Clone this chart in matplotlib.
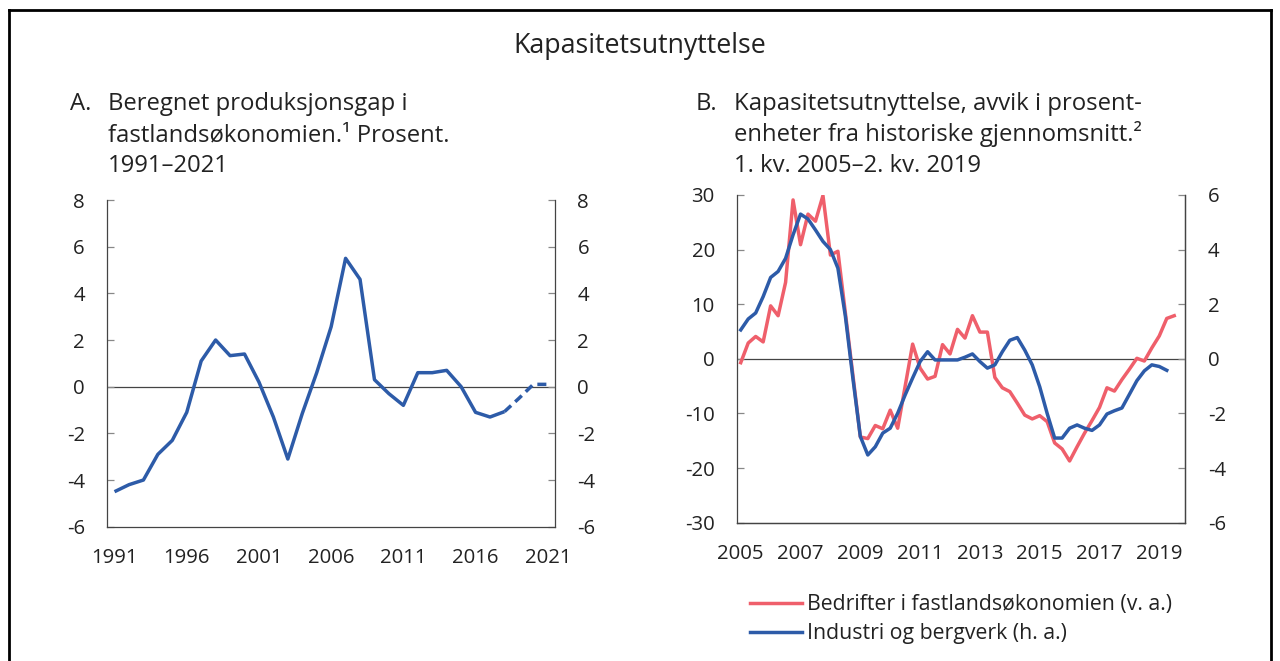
import matplotlib
matplotlib.use('Agg')
import matplotlib.pyplot as plt
from matplotlib.lines import Line2D

plt.rcParams['font.family'] = ['Open Sans', 'DejaVu Sans']
plt.rcParams['axes.unicode_minus'] = False

# ---------------- data ----------------
years_a = list(range(1991, 2022))
gap_a = [-4.5, -4.2, -4.0, -2.9, -2.3, -1.1, 1.1, 2.0, 1.33, 1.4,
         0.2, -1.3, -3.1, -1.15, 0.6, 2.57, 5.5, 4.6, 0.3, -0.3,
         -0.8, 0.6, 0.6, 0.7, 0.0, -1.1, -1.3, -1.07, -0.5, 0.1, 0.1]
proj_start_a = 2018  # dashed from here (projection)

bedrifter_b = [-0.7, 2.9, 4.1, 3.1, 9.7, 7.9, 14.0, 29.1, 20.9, 26.5,
               25.2, 29.9, 19.0, 19.7, 8.4, -2.9, -14.3, -14.6, -12.2, -12.8,
               -9.4, -12.7, -5.0, 2.7, -1.7, -3.7, -3.2, 2.6, 0.9, 5.4,
               3.8, 7.9, 4.9, 4.9, -3.4, -5.3, -6.0, -8.1, -10.3, -11.0,
               -10.4, -11.5, -15.4, -16.5, -18.7, -16.1, -13.6, -11.3, -8.9, -5.3,
               -5.9, -3.8, -1.9, 0.1, -0.4, 2.0, 4.2, 7.4, 7.9]
industri_b = [1.06, 1.46, 1.68, 2.28, 2.98, 3.2, 3.68, 4.54, 5.3, 5.12,
              4.72, 4.3, 4.0, 3.32, 1.56, -0.7, -2.84, -3.52, -3.22, -2.72,
              -2.54, -1.99, -1.32, -0.7, -0.1, 0.26, -0.04, -0.04, -0.04, -0.04,
              0.06, 0.18, -0.1, -0.34, -0.22, 0.26, 0.68, 0.78, 0.32, -0.22,
              -1.02, -2.0, -2.9, -2.9, -2.54, -2.42, -2.54, -2.62, -2.42, -2.02,
              -1.9, -1.8, -1.3, -0.8, -0.44, -0.22, -0.28, -0.42]
start_b = 2005
quarters_red = [start_b + i / 4 for i in range(len(bedrifter_b))]
quarters_blue = [start_b + i / 4 for i in range(len(industri_b))]

xticks_a = [1991, 1996, 2001, 2006, 2011, 2016, 2021]
yticks_a = [-6, -4, -2, 0, 2, 4, 6, 8]
xticks_b = [2005, 2007, 2009, 2011, 2013, 2015, 2017, 2019]
yticks_b_left = [-30, -20, -10, 0, 10, 20, 30]
yticks_b_right = [-6, -4, -2, 0, 2, 4, 6]

label_red = 'Bedrifter i fastlandsøkonomien (v. a.)'
label_blue = 'Industri og bergverk (h. a.)'

RED = '#EF5F6B'
BLUE = '#2D5BA8'
TXT = '#222222'
SPINE = '#444444'
TICK = '#888888'

W, H = 1280, 661
fig = plt.figure(figsize=(W / 100, H / 100), dpi=100)


def fx(px):
    return px / W


def fy(py):
    return 1 - py / H


TICKFS = 14.7
PAD = 16.2


def style_axis(ax):
    ax.spines['top'].set_visible(False)
    for s in ['left', 'right', 'bottom']:
        ax.spines[s].set_color(SPINE)
        ax.spines[s].set_linewidth(0.9)
    ax.tick_params(axis='y', direction='in', length=5, width=0.9, color=TICK,
                   labelsize=TICKFS, labelcolor=TXT, pad=PAD)
    ax.tick_params(axis='x', length=0, labelsize=TICKFS, labelcolor=TXT, pad=15)
    ax.set_facecolor('none')


# ---------------- panel A ----------------
axA = fig.add_axes([fx(107.3), fy(526.7), fx(555) - fx(107.3), fy(200) - fy(526.7)])
style_axis(axA)
axA.tick_params(axis='y', left=True, right=True, labelleft=True, labelright=True)
axA.set_xlim(1990.5, 2021.5)
axA.set_ylim(-6, 8)
axA.set_xticks(xticks_a)
axA.set_yticks(yticks_a)
axA.axhline(0, color='#444444', lw=0.9, zorder=1)
k = years_a.index(proj_start_a)
axA.plot(years_a[:k + 1], gap_a[:k + 1], color=BLUE, lw=2.5,
         solid_joinstyle='round', solid_capstyle='butt', zorder=3)
axA.plot(years_a[k:], gap_a[k:], color=BLUE, lw=2.5, ls=(0, (2.6, 1.6)),
         zorder=3)

# ---------------- panel B ----------------
axB = fig.add_axes([fx(737.3), fy(522.7), fx(1185.3) - fx(737.3), fy(195) - fy(522.7)])
style_axis(axB)
axB.set_xlim(2004.885, 2019.87)
axB.set_ylim(-30, 30)
axB.set_xticks(xticks_b)
axB.set_yticks(yticks_b_left)
axB.axhline(0, color='#444444', lw=0.9, zorder=1)
lr, = axB.plot(quarters_red, bedrifter_b, color=RED, lw=2.5,
               solid_joinstyle='round', label=label_red, zorder=2)

axB2 = axB.twinx()
style_axis(axB2)
axB2.spines['left'].set_visible(False)
axB2.set_ylim(-6, 6)
axB2.set_yticks(yticks_b_right)
lb, = axB2.plot(quarters_blue, industri_b, color=BLUE, lw=2.5,
                solid_joinstyle='round', label=label_blue, zorder=3)

# ---------------- texts ----------------
fig.text(0.5, fy(53), 'Kapasitetsutnyttelse', ha='center', va='baseline',
         fontsize=19.3, color=TXT)

SUBFS = 17.2
fig.text(fx(70), fy(110), 'A.', ha='left', va='baseline', fontsize=SUBFS, color=TXT)
fig.text(fx(108), fy(110), 'Beregnet produksjonsgap i', ha='left', va='baseline',
         fontsize=SUBFS, color=TXT)
fig.text(fx(108), fy(141), 'fastlandsøkonomien.¹ Prosent.', ha='left', va='baseline',
         fontsize=SUBFS, color=TXT)
fig.text(fx(108), fy(172), '1991–2021', ha='left', va='baseline',
         fontsize=SUBFS, color=TXT)

fig.text(fx(696), fy(110), 'B.', ha='left', va='baseline', fontsize=SUBFS, color=TXT)
fig.text(fx(734), fy(110), 'Kapasitetsutnyttelse, avvik i prosent-', ha='left',
         va='baseline', fontsize=SUBFS, color=TXT)
fig.text(fx(734), fy(141), 'enheter fra historiske gjennomsnitt.²', ha='left',
         va='baseline', fontsize=SUBFS, color=TXT)
fig.text(fx(734), fy(172), '1. kv. 2005–2. kv. 2019', ha='left',
         va='baseline', fontsize=SUBFS, color=TXT)

# ---------------- legend ----------------
leg = fig.legend(handles=[lr, lb], loc='center left',
                 bbox_to_anchor=(fx(750), fy(619)), frameon=False,
                 fontsize=15.3, handlelength=2.45, handletextpad=0.25,
                 labelspacing=0.38, borderpad=0, borderaxespad=0)
for t in leg.get_texts():
    t.set_color(TXT)

# ---------------- border ----------------
BL, BR, BT = 8.6, 1271.4, 10.3
for xs, ys in [([BL, BL], [H + 10, BT]), ([BL, BR], [BT, BT]), ([BR, BR], [BT, H + 10])]:
    fig.add_artist(Line2D([fx(x) for x in xs], [fy(y) for y in ys],
                          color='black', lw=2.0, solid_capstyle='projecting'))

fig.savefig('out.png', dpi=100, facecolor='white')
